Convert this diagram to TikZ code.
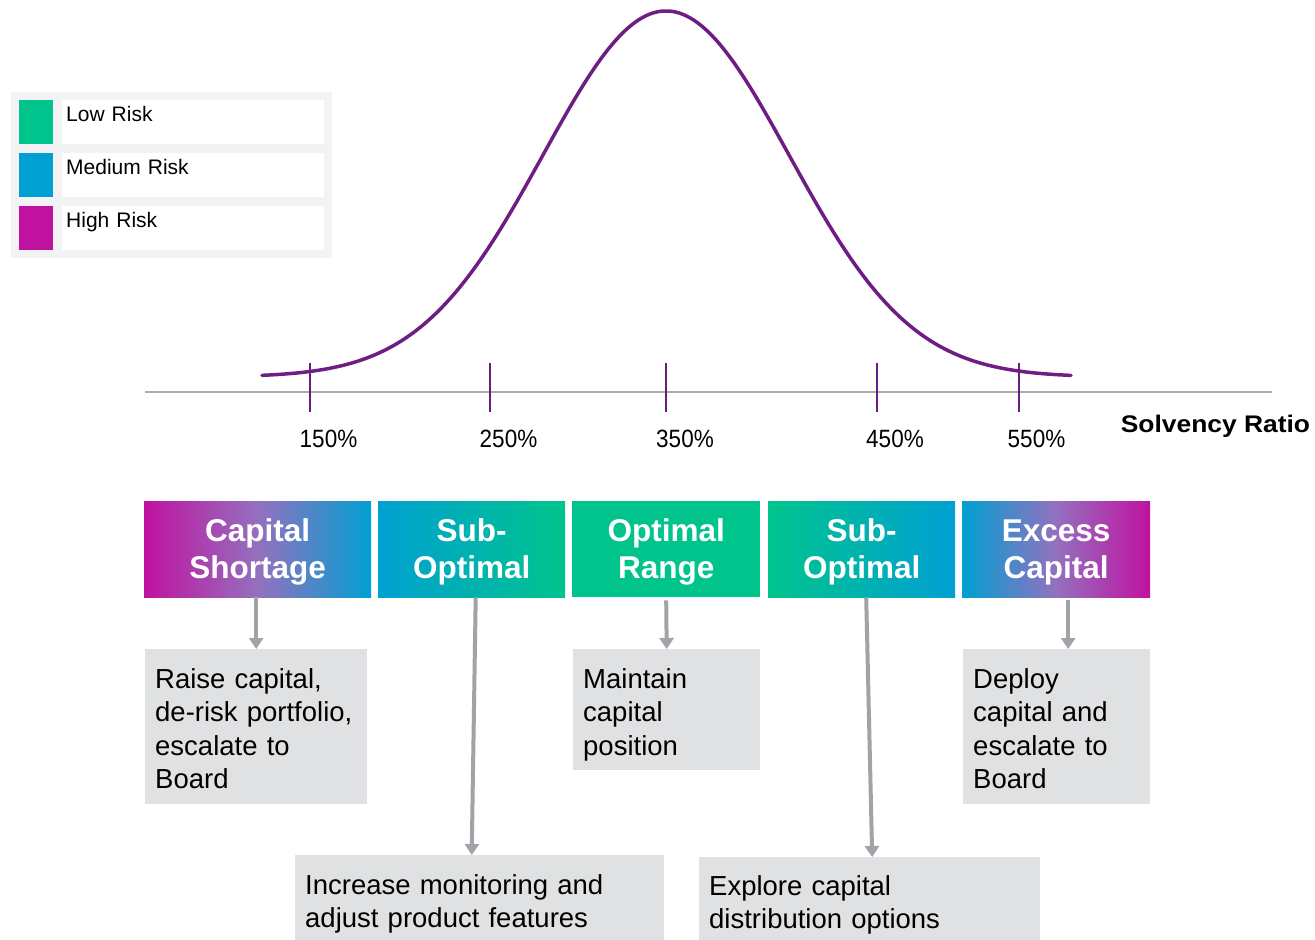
\documentclass[tikz,border=0pt]{standalone}
\usepackage{fontspec}
\usepackage{graphicx}
\setmainfont{Liberation Sans}
\usetikzlibrary{arrows.meta}
\definecolor{lowg}{RGB}{0,196,140}
\definecolor{medb}{RGB}{0,160,210}
\definecolor{highm}{RGB}{192,18,160}
\definecolor{curvep}{RGB}{110,30,130}
\definecolor{tickp}{RGB}{105,30,125}
\definecolor{axisg}{RGB}{172,172,172}
\definecolor{arrg}{RGB}{160,163,168}
\definecolor{boxg}{RGB}{224,225,227}
\definecolor{legbg}{RGB}{243,243,245}
\definecolor{midmb}{RGB}{148,112,190}
\definecolor{midbg}{RGB}{0,178,175}
\begin{document}
\begin{tikzpicture}[x=1pt,y=-1pt,
  stage/.style={anchor=north west, inner sep=0pt, text width=#1, align=center,
    text=white, font=\fontsize{31.5}{37}\selectfont\bfseries,
    text height=40pt, text depth=56pt},
  gbox/.style={fill=boxg, anchor=north west, inner xsep=10pt, inner ysep=0pt,
    align=left, font=\fontsize{27.5}{33.4}\selectfont},
  swatch/.style={anchor=north west, inner sep=0pt, minimum width=34pt, minimum height=44pt},
  leglab/.style={anchor=north west, fill=white, inner xsep=4pt, inner ysep=0pt,
    text width=254pt, text height=21pt, text depth=23pt, align=left,
    font=\fontsize{21}{25}\selectfont},
  pct/.style={anchor=base, inner sep=0pt, font=\fontsize{25}{30}\selectfont},
  tickline/.style={draw=tickp, line width=1.5pt},
  curveline/.style={draw=curvep, line width=3.5pt, line cap=round},
  arr/.style={draw=arrg, line width=4pt, -{Triangle[width=14pt,length=11pt]}}
]
\useasboundingbox (0,0) rectangle (1315,940);

% legend
\node[fill=legbg, anchor=north west, inner sep=0pt, minimum width=321pt, minimum height=166pt] (leg) at (11,92) {};
\node[swatch, fill=lowg] (swlow) at (19,100) {};
\node[swatch, fill=medb] (swmed) at (19,153) {};
\node[swatch, fill=highm] (swhigh) at (19,206) {};
\node[leglab] (lablow) at (62,100) {Low Risk};
\node[leglab] (labmed) at (62,153) {Medium Risk};
\node[leglab] (labhigh) at (62,206) {High Risk};

% axis and curve
\draw[draw=axisg, line width=2pt] (145,392) -- (1272,392);
\foreach \t in {310,490,666,877,1019} {
  \draw[tickline] (\t,363) -- (\t,412);
}
\draw[curveline] plot[domain=262:1071, samples=181, smooth] (\x, {377-366*exp(-0.5*((\x-666)/123)^2)});

\node[pct] (p150) at (328.5,447) {\scalebox{0.9}[1]{150\%}};
\node[pct] (p250) at (508.5,447) {\scalebox{0.9}[1]{250\%}};
\node[pct] (p350) at (685,447) {\scalebox{0.9}[1]{350\%}};
\node[pct] (p450) at (895,447) {\scalebox{0.9}[1]{450\%}};
\node[pct] (p550) at (1036.5,447) {\scalebox{0.9}[1]{550\%}};
\node[anchor=base, inner sep=0pt, font=\fontsize{24}{28}\selectfont\bfseries] (sr) at (1215.5,432) {\scalebox{1.1}[1]{Solvency Ratio}};

% stage boxes
\node[stage=227pt, left color=highm, right color=medb, middle color=midmb] (cs) at (144,501) {Capital\\Shortage};
\node[stage=187pt, left color=medb, right color=lowg, middle color=midbg] (so1) at (378,501) {Sub-\\Optimal};
\node[stage=188pt, fill=lowg] (op) at (572,501) {Optimal\\Range};
\node[stage=187pt, left color=lowg, right color=medb, middle color=midbg] (so2) at (768,501) {Sub-\\Optimal};
\node[stage=188pt, left color=medb, right color=highm, middle color=midmb] (ex) at (962,501) {Excess\\Capital};

% action boxes
\node[gbox, text width=202pt, text height=39pt, text depth=116pt] (g1) at (145,649) {Raise capital,\\de-risk portfolio,\\escalate to\\Board};
\node[gbox, text width=167pt, text height=39pt, text depth=82pt] (g3) at (573,649) {Maintain\\capital\\position};
\node[gbox, text width=167pt, text height=39pt, text depth=116pt] (g5) at (963,649) {Deploy\\capital and\\escalate to\\Board};
\node[gbox, text width=349pt, text height=39pt, text depth=46pt] (g2) at (295,855) {Increase monitoring and\\adjust product features};
\node[gbox, text width=321pt, text height=38pt, text depth=45pt] (g4) at (699,857) {Explore capital\\distribution options};

% arrows
\draw[arr] ([xshift=-1.5pt]cs.south) -- (g1.north);
\draw[arr] ([xshift=4pt]so1.south) -- ([xshift=-8pt]g2.north);
\draw[arr] ([yshift=-3pt]op.south) -- (g3.north);
\draw[arr] ([xshift=4.5pt]so2.south) -- ([xshift=2.5pt]g4.north);
\draw[arr] ([xshift=12pt,yshift=-3pt]ex.south) -- ([xshift=11.5pt]g5.north);
\end{tikzpicture}
\end{document}
